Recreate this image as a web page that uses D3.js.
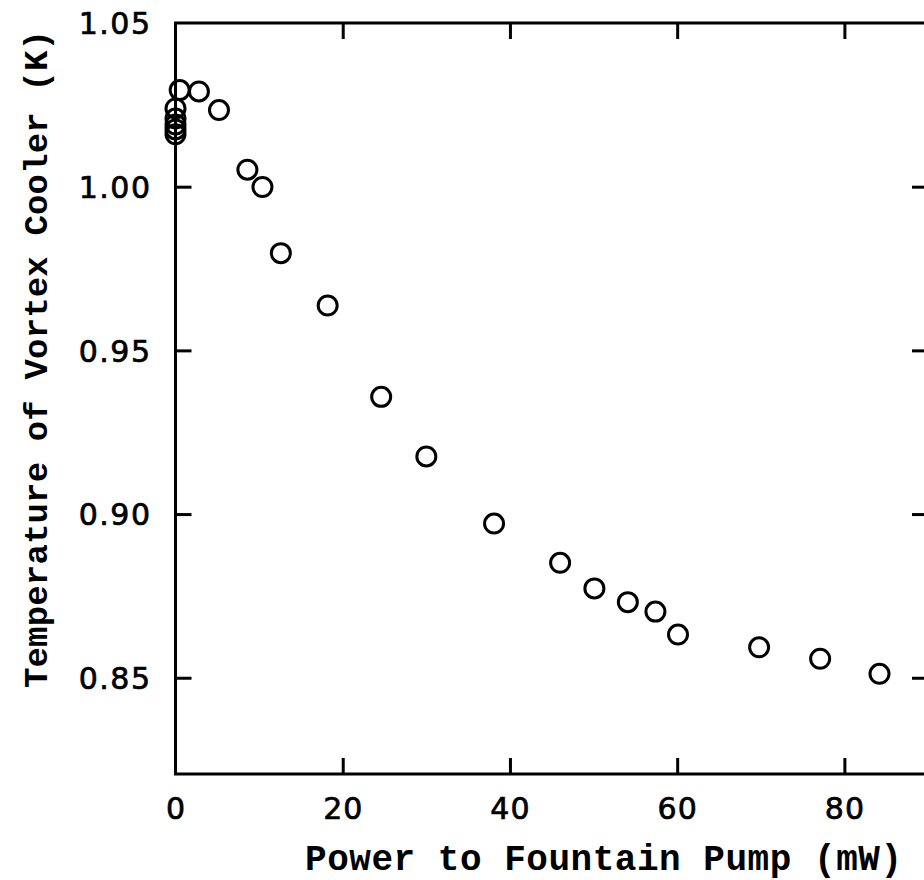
<!DOCTYPE html>
<html>
<head>
<meta charset="utf-8">
<script src="https://cdn.jsdelivr.net/npm/d3@7"></script>
<style>
  html, body { margin: 0; padding: 0; background: #fff; }
  svg { display: block; }
</style>
</head>
<body>
<div id="chart"></div>
<script>
// ---- data ----
const powerMW = [0, 0, 0, 0, 0, 0.5, 2.8, 5.2, 8.6, 10.4, 12.6, 18.2, 24.6, 30.0, 38.1, 46.0, 50.1, 54.1, 57.4, 60.1, 69.8, 77.1, 84.2];
const tempK   = [1.0239, 1.0208, 1.0190, 1.0175, 1.0160, 1.0295, 1.0291, 1.0234, 1.0052, 0.9999, 0.9797, 0.9637, 0.9358, 0.9176, 0.8971, 0.8851, 0.8773, 0.8731, 0.8702, 0.8632, 0.8593, 0.8558, 0.8512];
const xTicks = [0, 20, 40, 60, 80];
const yTicks = [0.85, 0.90, 0.95, 1.00, 1.05];
const xTitle = "Power to Fountain Pump (mW)";
const yTitle = "Temperature of Vortex Cooler (K)";

// ---- layout ----
const W = 924, H = 880;
const mLeft = 175.5, mRight = 928, mTop = 23, mBottom = 774;

const x = d3.scaleLinear().domain([0, 90]).range([mLeft, mRight]);
const y = d3.scaleLinear().domain([0.8206, 1.05]).range([mBottom, mTop]);

const svg = d3.select("#chart").append("svg")
  .attr("width", W).attr("height", H);

const ink = "#000";
const lw = 3;
const tickLen = 16;

// frame
svg.append("rect")
  .attr("x", mLeft).attr("y", mTop)
  .attr("width", mRight - mLeft).attr("height", mBottom - mTop)
  .attr("fill", "none").attr("stroke", ink).attr("stroke-width", lw);

// bottom axis (ticks inward)
const xAxisB = d3.axisBottom(x).tickValues(xTicks).tickSize(-tickLen).tickPadding(0).tickFormat(d3.format("d"));
const gxb = svg.append("g").attr("transform", `translate(0,${mBottom})`).call(xAxisB);
gxb.select(".domain").remove();
gxb.selectAll(".tick line").attr("stroke", ink).attr("stroke-width", lw)
  .attr("display", d => d === 0 ? "none" : null);
gxb.selectAll(".tick text").attr("fill", ink)
  .attr("font-family", "'DejaVu Sans', sans-serif").attr("font-size", 30)
  .attr("stroke", ink).attr("stroke-width", 0.7)
  .attr("letter-spacing", 1)
  .attr("y", 45).attr("dy", 0);

// top axis ticks inward
const xAxisT = d3.axisTop(x).tickValues(xTicks.filter(d => d !== 0)).tickSize(-tickLen).tickFormat("");
const gxt = svg.append("g").attr("transform", `translate(0,${mTop})`).call(xAxisT);
gxt.select(".domain").remove();
gxt.selectAll(".tick line").attr("stroke", ink).attr("stroke-width", lw);

// left axis ticks inward + labels
const yAxisL = d3.axisLeft(y).tickValues(yTicks).tickSize(-tickLen).tickPadding(0).tickFormat(d3.format(".2f"));
const gyl = svg.append("g").attr("transform", `translate(${mLeft},0)`).call(yAxisL);
gyl.select(".domain").remove();
gyl.selectAll(".tick line").attr("stroke", ink).attr("stroke-width", lw)
  .attr("display", d => d === 1.05 ? "none" : null);
gyl.selectAll(".tick text").attr("fill", ink)
  .attr("font-family", "'DejaVu Sans', sans-serif").attr("font-size", 30)
  .attr("stroke", ink).attr("stroke-width", 0.7)
  .attr("letter-spacing", 1.5)
  .attr("x", -24).attr("dy", "0.36em");

// right axis ticks inward
const yAxisR = d3.axisRight(y).tickValues(yTicks.filter(d => d !== 1.05)).tickSize(-tickLen).tickFormat("");
const gyr = svg.append("g").attr("transform", `translate(${mRight},0)`).call(yAxisR);
gyr.select(".domain").remove();
gyr.selectAll(".tick line").attr("stroke", ink).attr("stroke-width", lw);

// points
svg.append("g").selectAll("circle")
  .data(powerMW.map((p, i) => [p, tempK[i]]))
  .join("circle")
  .attr("cx", d => x(d[0]))
  .attr("cy", d => y(d[1]))
  .attr("r", 9.5)
  .attr("fill", "none")
  .attr("stroke", ink)
  .attr("stroke-width", 3);

// axis titles
svg.append("text")
  .attr("x", 305).attr("y", 870)
  .attr("font-family", "'Liberation Mono', 'Courier New', monospace")
  .attr("font-weight", "bold")
  .attr("font-size", 36)
  .attr("textLength", 597)
  .attr("lengthAdjust", "spacing")
  .attr("fill", ink)
  .text(xTitle);

svg.append("text")
  .attr("transform", "translate(47,688) rotate(-90)")
  .attr("x", 0).attr("y", 0)
  .attr("font-family", "'Liberation Mono', 'Courier New', monospace")
  .attr("font-weight", "bold")
  .attr("font-size", 34)
  .attr("textLength", 658)
  .attr("lengthAdjust", "spacing")
  .attr("fill", ink)
  .text(yTitle);
</script>
</body>
</html>
